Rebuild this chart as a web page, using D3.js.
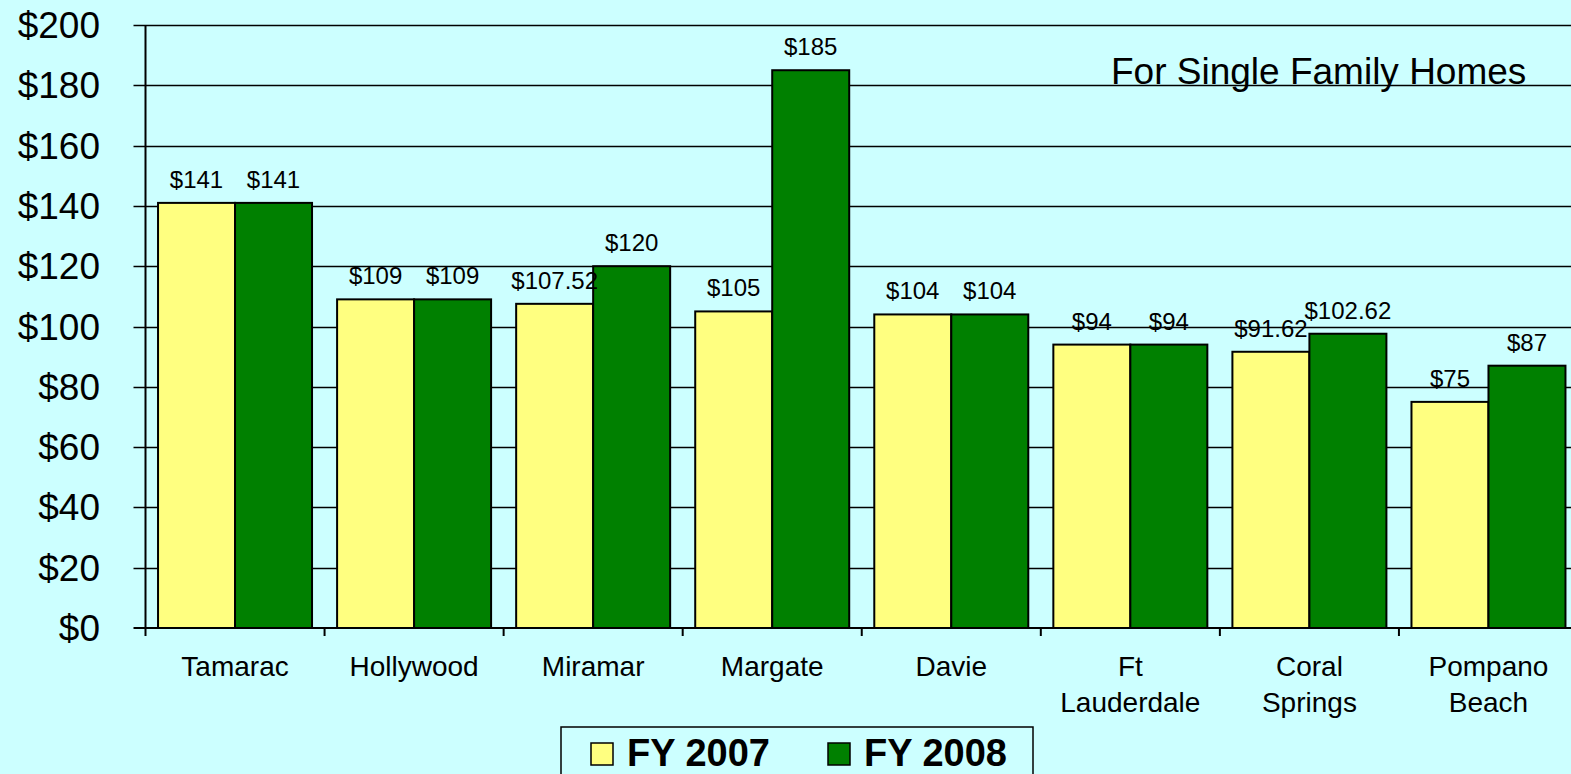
<!DOCTYPE html>
<html>
<head>
<meta charset="utf-8">
<script src="https://cdn.jsdelivr.net/npm/d3@7"></script>
<style>
  html, body { margin: 0; padding: 0; background: #ccffff; overflow: hidden; }
  text { font-family: Arial, "Liberation Sans", sans-serif; fill: #000; }
</style>
</head>
<body>
<div id="chart"></div>
<script>
// cities along the x axis (multi-line labels split on "|")
const cities = ["Tamarac", "Hollywood", "Miramar", "Margate", "Davie",
                "Ft|Lauderdale", "Coral|Springs", "Pompano|Beach"];
const series = ["FY 2007", "FY 2008"];

// bar heights
const fy2007 = [141, 109, 107.52, 105, 104, 94, 91.62, 75];
const fy2008 = [141, 109, 120, 185, 104, 94, 97.6, 87];

// printed data labels (Coral Springs 2008 is labelled higher than its bar)
const fy2007Labels = ["$141", "$109", "$107.52", "$105", "$104", "$94", "$91.62", "$75"];
const fy2008Labels = ["$141", "$109", "$120", "$185", "$104", "$94", "$102.62", "$87"];

const yTicks = [0, 20, 40, 60, 80, 100, 120, 140, 160, 180, 200];
const note = "For Single Family Homes";

const colors = { "FY 2007": "#ffff80", "FY 2008": "#008000" };

const width = 1571, height = 774;
const margin = { left: 145.5, top: 25, bottom: 146 };
const plotRight = 1578; // plot runs off the right edge in the original

const svg = d3.select("#chart").append("svg")
  .attr("width", width)
  .attr("height", height)
  .style("display", "block")
  .style("background", "#ccffff");

const x = d3.scaleBand()
  .domain(cities)
  .range([margin.left, plotRight])
  .paddingInner(0.14)
  .paddingOuter(0.07);

const xs = d3.scaleBand()
  .domain(series)
  .range([0, x.bandwidth()]);

const y = d3.scaleLinear()
  .domain([0, 200])
  .range([height - margin.bottom, margin.top]);

// gridlines with outward tick stubs
svg.append("g")
  .selectAll("line")
  .data(yTicks.slice(1))
  .join("line")
  .attr("x1", margin.left - 12)
  .attr("x2", width)
  .attr("y1", d => Math.round(y(d)) + 0.5)
  .attr("y2", d => Math.round(y(d)) + 0.5)
  .attr("stroke", "#000")
  .attr("stroke-width", 1.5);

// y tick labels
svg.append("g")
  .selectAll("text")
  .data(yTicks)
  .join("text")
  .attr("x", 100)
  .attr("y", d => y(d) + 13)
  .attr("text-anchor", "end")
  .style("font-size", "37px")
  .text(d => "$" + d);

// bars
const rows = cities.map((c, i) => ({
  city: c,
  vals: [
    { s: "FY 2007", v: fy2007[i], label: fy2007Labels[i] },
    { s: "FY 2008", v: fy2008[i], label: fy2008Labels[i] }
  ]
}));

const groups = svg.append("g")
  .selectAll("g")
  .data(rows)
  .join("g")
  .attr("transform", d => `translate(${x(d.city)},0)`);

groups.selectAll("rect")
  .data(d => d.vals)
  .join("rect")
  .attr("x", d => xs(d.s))
  .attr("y", d => y(d.v))
  .attr("width", xs.bandwidth())
  .attr("height", d => y(0) - y(d.v))
  .attr("fill", d => colors[d.s])
  .attr("stroke", "#000")
  .attr("stroke-width", 2);

groups.selectAll("text")
  .data(d => d.vals)
  .join("text")
  .attr("x", d => xs(d.s) + xs.bandwidth() / 2)
  .attr("y", d => y(d.v) - 15)
  .attr("text-anchor", "middle")
  .style("font-size", "24px")
  .text(d => d.label);

// axes lines
svg.append("line")
  .attr("x1", margin.left).attr("x2", margin.left)
  .attr("y1", y(200)).attr("y2", y(0) + 8)
  .attr("stroke", "#000").attr("stroke-width", 2);

svg.append("line")
  .attr("x1", margin.left - 12).attr("x2", width)
  .attr("y1", y(0)).attr("y2", y(0))
  .attr("stroke", "#000").attr("stroke-width", 2);

// category boundary ticks
const step = x.step();
svg.append("g")
  .selectAll("line")
  .data(cities.slice(1))
  .join("line")
  .attr("x1", d => x(d) - step * x.paddingInner() / 2)
  .attr("x2", d => x(d) - step * x.paddingInner() / 2)
  .attr("y1", y(0))
  .attr("y2", y(0) + 8)
  .attr("stroke", "#000")
  .attr("stroke-width", 2);

// category labels
svg.append("g")
  .selectAll("text")
  .data(cities)
  .join("text")
  .attr("x", d => x(d) + x.bandwidth() / 2)
  .attr("y", y(0) + 48)
  .attr("text-anchor", "middle")
  .style("font-size", "28px")
  .each(function (d) {
    const lines = d.split("|");
    d3.select(this).selectAll("tspan")
      .data(lines)
      .join("tspan")
      .attr("x", x(d) + x.bandwidth() / 2)
      .attr("dy", (l, i) => i === 0 ? 0 : 36)
      .text(l => l);
  });

// note
svg.append("text")
  .attr("x", 1111)
  .attr("y", y(180) - 1)
  .style("font-size", "37px")
  .text(note);

// legend
const legend = svg.append("g").attr("transform", "translate(561,727)");
legend.append("rect")
  .attr("width", 472)
  .attr("height", 60)
  .attr("fill", "#ccffff")
  .attr("stroke", "#000")
  .attr("stroke-width", 1.5);

const li = legend.selectAll("g")
  .data(series)
  .join("g")
  .attr("transform", (d, i) => `translate(${30 + i * 237},16)`);

li.append("rect")
  .attr("width", 22)
  .attr("height", 22)
  .attr("fill", d => colors[d])
  .attr("stroke", "#000")
  .attr("stroke-width", 1.5);

li.append("text")
  .attr("x", 36)
  .attr("y", 23)
  .style("font-size", "38px")
  .style("font-weight", "bold")
  .text(d => d);
</script>
</body>
</html>
